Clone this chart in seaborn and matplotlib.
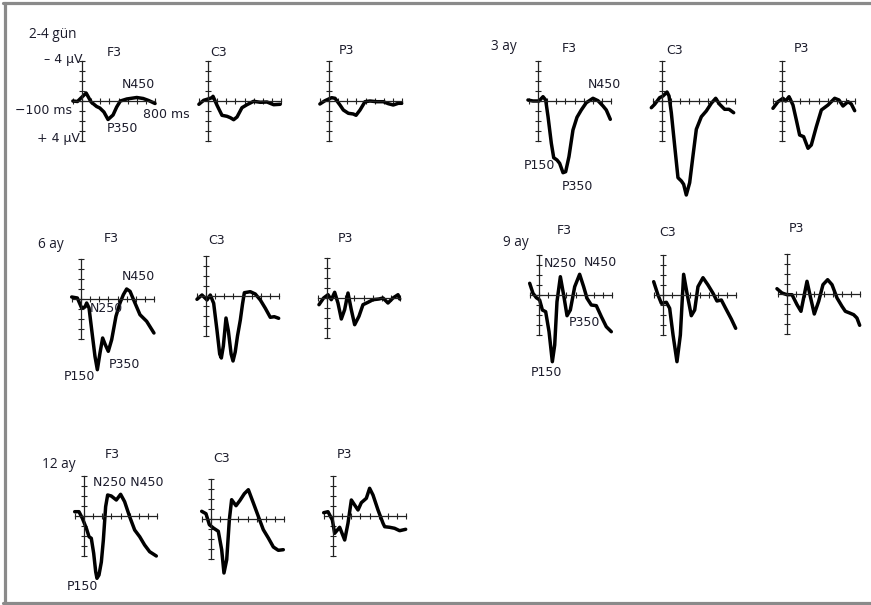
import matplotlib
matplotlib.use("Agg")
import matplotlib.pyplot as plt
import seaborn as sns
import pandas as pd
from matplotlib.lines import Line2D

# ---------------- data (ms, µV; positive values plotted downward) ----------------
groups = ["2-4 gün", "3 ay", "6 ay", "9 ay", "12 ay"]
channels = ["F3", "C3", "P3"]

g24_F3_ms = [-100, -50, 0, 45, 100, 160, 195, 240, 285, 340, 380, 420, 490, 600, 670, 730, 800]
g24_F3_uv = [0, 0.05, -0.4, -0.8, 0.1, 0.55, 0.7, 1.1, 1.85, 1.4, 0.6, 0.0, -0.2, -0.35, -0.25, -0.05, 0.25]
g24_C3_ms = [-100, -47, 0, 44, 55, 99, 153, 208, 245, 281, 318, 372, 427, 500, 573, 646, 719, 790]
g24_C3_uv = [0.33, -0.07, -0.2, -0.33, -0.47, 0.43, 1.43, 1.53, 1.67, 1.87, 1.6, 0.67, 0.37, 0.03, 0.13, 0.1, 0.37, 0.33]
g24_P3_ms = [-100, -44, 29, 66, 120, 157, 212, 266, 296, 340, 394, 449, 522, 595, 650, 704, 759, 796]
g24_P3_uv = [0.3, -0.03, -0.33, -0.27, 0.4, 0.9, 1.23, 1.3, 1.43, 0.9, 0.07, 0, 0.07, 0.07, 0.27, 0.4, 0.23, 0.23]

g3_F3_ms = [-110, -55, 11, 55, 84, 110, 146, 172, 208, 237, 274, 303, 339, 383, 427, 474, 529, 602, 657, 712, 748, 792]
g3_F3_uv = [-0.1, 0, 0, -0.43, -0.1, 1.57, 4.23, 5.67, 5.9, 6.23, 7.17, 7.07, 5.57, 2.9, 1.63, 0.9, 0.17, -0.27, -0.03, 0.5, 0.9, 1.83]
g3_C3_ms = [-117, -80, -26, 11, 55, 77, 102, 139, 175, 212, 237, 266, 303, 339, 376, 431, 485, 540, 588, 631, 686, 734, 785]
g3_C3_uv = [0.67, 0.33, -0.33, -0.5, -0.9, -0.5, 1.17, 4.5, 7.67, 8.0, 8.33, 9.4, 8.17, 5.5, 2.83, 1.57, 1.0, 0.23, -0.27, 0.33, 0.83, 0.83, 1.17]
g3_P3_ms = [-99, -44, 11, 40, 77, 120, 157, 193, 237, 285, 321, 376, 431, 504, 577, 624, 668, 723, 759, 796]
g3_P3_uv = [0.73, 0.07, -0.27, 0, -0.43, 0.4, 1.9, 3.4, 3.57, 4.73, 4.4, 2.57, 0.9, 0.4, -0.27, -0.1, 0.5, 0.07, 0.3, 0.97]

g6_F3_ms = [-102, -40, 7, 44, 62, 88, 117, 153, 179, 208, 237, 266, 299, 336, 383, 427, 464, 500, 537, 591, 646, 719, 799]
g6_F3_uv = [-0.2, -0.1, 0.9, 0.8, 0.4, 0.9, 3.07, 5.73, 7.07, 5.4, 3.9, 4.57, 5.23, 4.07, 1.73, 0.4, -0.43, -1.0, -0.77, 0.4, 1.57, 2.23, 3.4]
g6_C3_ms = [-99, -44, 11, 47, 84, 120, 150, 168, 190, 219, 245, 275, 296, 320, 345, 376, 400, 420, 485, 540, 595, 650, 704, 748, 796]
g6_C3_uv = [0.33, -0.1, 0.4, -0.1, 0.73, 3.4, 5.8, 6.2, 5.0, 2.2, 3.5, 5.8, 6.5, 5.6, 4.0, 2.4, 0.8, -0.33, -0.43, -0.2, 0.4, 1.23, 2.13, 2.07, 2.23]
g6_P3_ms = [-88, -37, 11, 47, 84, 120, 157, 193, 230, 266, 303, 350, 394, 449, 504, 569, 613, 668, 723, 778, 796]
g6_P3_uv = [0.67, 0, -0.33, 0.17, -0.57, 0.5, 2.1, 1.17, -0.5, 1.17, 2.67, 1.83, 0.67, 0.43, 0.17, 0.1, 0, 0.5, 0, -0.33, 0.1]

g9_F3_ms = [-102, -66, -29, 7, 37, 73, 110, 146, 172, 197, 234, 270, 307, 343, 391, 445, 489, 526, 573, 628, 683, 737, 792]
g9_F3_uv = [-1.17, -0.17, 0.27, 0.5, 1.5, 1.67, 3.67, 6.67, 5.0, 0.67, -1.83, 0, 2.07, 1.5, -0.83, -2.07, -0.83, 0.33, 1.0, 1.07, 2.17, 3.17, 3.67]
g9_C3_ms = [-102, -55, -18, 37, 73, 110, 153, 190, 226, 263, 310, 347, 383, 438, 493, 548, 591, 639, 686, 748, 796]
g9_C3_uv = [-1.33, 0, 0.83, 0.73, 1.33, 4.0, 6.67, 4.0, -2.07, -0.17, 2.07, 1.5, -0.83, -1.73, -1.0, -0.17, 0.6, 0.5, 1.33, 2.4, 3.33]
g9_P3_ms = [-110, -55, 0, 55, 110, 153, 219, 255, 299, 347, 394, 445, 493, 548, 602, 639, 686, 730, 766, 796]
g9_P3_uv = [-0.53, -0.1, 0.07, 0.07, 1.07, 1.73, -1.27, 0.23, 2.0, 0.73, -0.93, -1.43, -0.93, 0.4, 1.23, 1.73, 1.9, 2.07, 2.4, 3.13]

g12_F3_ms = [-102, -55, -18, 26, 55, 80, 106, 128, 142, 164, 190, 212, 237, 259, 299, 354, 401, 445, 500, 555, 610, 664, 719, 792]
g12_F3_uv = [-0.43, -0.43, 0.23, 1.23, 2.07, 2.23, 3.73, 5.57, 6.23, 5.9, 4.6, 2.4, -0.93, -2.1, -2.0, -1.6, -2.17, -1.43, 0.07, 1.4, 2.07, 2.9, 3.57, 4.0]
g12_C3_ms = [-102, -55, -18, 26, 80, 117, 142, 172, 201, 226, 274, 318, 365, 409, 464, 518, 573, 628, 683, 737, 792]
g12_C3_uv = [-0.77, -0.53, 0.57, 0.9, 1.23, 3.07, 5.4, 4.07, 0.07, -1.93, -1.33, -1.87, -2.53, -2.93, -1.6, -0.27, 1.07, 1.9, 2.8, 3.13, 3.07]
g12_P3_ms = [-102, -55, -7, 18, 73, 128, 164, 201, 237, 274, 310, 365, 401, 438, 493, 548, 566, 621, 675, 730, 796]
g12_P3_uv = [-0.33, -0.43, 0.4, 1.73, 1.13, 2.4, 0.73, -1.6, -1.1, -0.6, -1.33, -1.77, -2.77, -2.1, -0.6, 0.73, 1.07, 1.13, 1.23, 1.47, 1.33]

x_ticks = [-100, 0, 100, 200, 300, 400, 500, 600, 700, 800]
y_ticks = [-4, -3, -2, -1, 0, 1, 2, 3, 4]

series = {
    ("2-4 gün", "F3"): (g24_F3_ms, g24_F3_uv), ("2-4 gün", "C3"): (g24_C3_ms, g24_C3_uv), ("2-4 gün", "P3"): (g24_P3_ms, g24_P3_uv),
    ("3 ay", "F3"): (g3_F3_ms, g3_F3_uv), ("3 ay", "C3"): (g3_C3_ms, g3_C3_uv), ("3 ay", "P3"): (g3_P3_ms, g3_P3_uv),
    ("6 ay", "F3"): (g6_F3_ms, g6_F3_uv), ("6 ay", "C3"): (g6_C3_ms, g6_C3_uv), ("6 ay", "P3"): (g6_P3_ms, g6_P3_uv),
    ("9 ay", "F3"): (g9_F3_ms, g9_F3_uv), ("9 ay", "C3"): (g9_C3_ms, g9_C3_uv), ("9 ay", "P3"): (g9_P3_ms, g9_P3_uv),
    ("12 ay", "F3"): (g12_F3_ms, g12_F3_uv), ("12 ay", "C3"): (g12_C3_ms, g12_C3_uv), ("12 ay", "P3"): (g12_P3_ms, g12_P3_uv),
}

# ---------------- layout (pixel origins of each mini plot: 0 ms, 0 µV) ----------------
W, H, DPI = 871, 605, 100
PX_MS = 0.0913
PX_UV = 10.0
XL = (-150, 850)
YL = (11, -6)

origins = {
    ("2-4 gün", "F3"): (82, 101), ("2-4 gün", "C3"): (208, 101), ("2-4 gün", "P3"): (329, 101),
    ("3 ay", "F3"): (538, 101), ("3 ay", "C3"): (662, 101), ("3 ay", "P3"): (782, 101),
    ("6 ay", "F3"): (81, 299), ("6 ay", "C3"): (206, 296), ("6 ay", "P3"): (327, 298),
    ("9 ay", "F3"): (539, 295), ("9 ay", "C3"): (663, 295), ("9 ay", "P3"): (787, 294),
    ("12 ay", "F3"): (84, 516), ("12 ay", "C3"): (211, 519), ("12 ay", "P3"): (333, 516),
}

sns.set_theme(style="white")
plt.rcParams["font.family"] = ["DejaVu Sans"]
TXT = "#1c1c2c"

fig = plt.figure(figsize=(W / DPI, H / DPI), dpi=DPI)
fig.patch.set_facecolor("white")

for key, (ox, oy) in origins.items():
    ms, uv = series[key]
    left = ox + XL[0] * PX_MS
    width = (XL[1] - XL[0]) * PX_MS
    top = oy + YL[1] * PX_UV
    height = (YL[0] - YL[1]) * PX_UV
    ax = fig.add_axes([left / W, 1 - (top + height) / H, width / W, height / H])
    ax.patch.set_visible(False)
    df = pd.DataFrame({"ms": ms, "uv": uv})
    sns.lineplot(data=df, x="ms", y="uv", ax=ax, color="black", linewidth=2.5,
                 sort=False, estimator=None, solid_joinstyle="round", solid_capstyle="round")
    ax.set_xlim(*XL)
    ax.set_ylim(*YL)
    for s in ("top", "right"):
        ax.spines[s].set_visible(False)
    ax.spines["left"].set_position(("data", 0))
    ax.spines["bottom"].set_position(("data", 0))
    ax.spines["left"].set_bounds(-4, 4)
    ax.spines["bottom"].set_bounds(-100, 800)
    for s in ("left", "bottom"):
        ax.spines[s].set_color("#222222")
        ax.spines[s].set_linewidth(0.9)
    ax.set_xticks(x_ticks)
    ax.set_yticks(y_ticks)
    ax.tick_params(axis="both", direction="inout", length=4, width=0.8, color="#222222",
                   labelbottom=False, labelleft=False, bottom=True, left=True)
    ax.set_xlabel("")
    ax.set_ylabel("")
    ax.grid(False)


def ptext(x, y, s, size=9.0, ha="center", va="center", family=None):
    kw = {}
    if family:
        kw["family"] = family
    fig.text(x / W, 1 - y / H, s, ha=ha, va=va, fontsize=size, color=TXT, **kw)


# group labels
GF = ["Open Sans", "DejaVu Sans"]
ptext(29, 35, "2-4 gün", size=9.8, ha="left", family=GF)
ptext(491, 47, "3 ay", size=9.8, ha="left", family=GF)
ptext(38, 245, "6 ay", size=9.8, ha="left", family=GF)
ptext(503, 243, "9 ay", size=9.8, ha="left", family=GF)
ptext(42, 465, "12 ay", size=9.8, ha="left", family=GF)

# channel labels
chan_pos = {
    ("2-4 gün", "F3"): (114, 52), ("2-4 gün", "C3"): (219, 52), ("2-4 gün", "P3"): (346, 50),
    ("3 ay", "F3"): (569, 48), ("3 ay", "C3"): (675, 50), ("3 ay", "P3"): (801, 48),
    ("6 ay", "F3"): (111, 238), ("6 ay", "C3"): (217, 240), ("6 ay", "P3"): (345, 238),
    ("9 ay", "F3"): (564, 230), ("9 ay", "C3"): (668, 232), ("9 ay", "P3"): (796, 229),
    ("12 ay", "F3"): (112, 454), ("12 ay", "C3"): (222, 458), ("12 ay", "P3"): (344, 455),
}
for (g, c), (x, y) in chan_pos.items():
    ptext(x, y, c)

# axis annotations (first panel)
ptext(82, 59, "– 4 µV", ha="right")
ptext(80, 139, "+ 4 µV", ha="right")
ptext(72, 110, "−100 ms", ha="right")
ptext(166, 115, "800 ms")

# component labels
ptext(138, 85, "N450")
ptext(122, 129, "P350")
ptext(604, 84, "N450")
ptext(539, 166, "P150")
ptext(577, 186, "P350")
ptext(138, 277, "N450")
ptext(106, 309, "N250")
ptext(124, 364, "P350")
ptext(79, 377, "P150")
ptext(560, 264, "N250")
ptext(600, 263, "N450")
ptext(584, 323, "P350")
ptext(546, 372, "P150")
ptext(128, 482, "N250 N450")
ptext(82, 587, "P150")

# grey frame (top, left, bottom)
FC = "#8a8a8a"
fig.add_artist(Line2D([3 / W, 1], [1 - 3 / H, 1 - 3 / H], color=FC, lw=2.3, transform=fig.transFigure))
fig.add_artist(Line2D([4.5 / W, 4.5 / W], [1 - 3 / H, 1 - 603 / H], color=FC, lw=2.3, transform=fig.transFigure))
fig.add_artist(Line2D([3 / W, 1], [1 - 603 / H, 1 - 603 / H], color=FC, lw=2.3, transform=fig.transFigure))

fig.savefig("out.png", dpi=DPI, facecolor="white")
